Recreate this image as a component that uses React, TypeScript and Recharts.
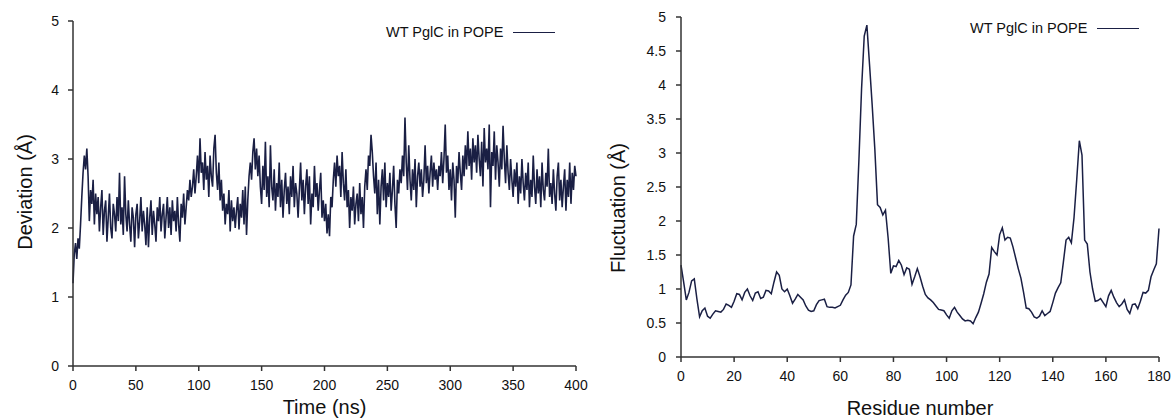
import { LineChart, Line, XAxis, YAxis, Legend } from 'recharts';

const SERIES_NAME = 'WT PglC in POPE';

// backbone deviation, one frame per ns, 0..400 ns
const rmsd = [
  1.2, 1.62, 1.78, 1.55, 1.85, 1.7, 2.05, 2.45, 2.8, 3.05,
  2.85, 3.15, 2.75, 2.1, 2.55, 2.35, 2.7, 2.05, 2.5, 2.2,
  2.45, 1.95, 2.3, 2.55, 1.9, 2.25, 2.4, 1.8, 2.15, 2.5,
  2.0, 1.85, 2.35, 2.2, 1.95, 2.45, 2.1, 2.8, 2.05, 2.3,
  1.9, 2.75, 2.2, 1.95, 2.4, 2.05, 1.8, 2.3, 2.15, 1.72,
  2.2, 2.35, 1.85, 2.1, 2.45, 1.95, 2.25, 2.05, 1.75, 2.3,
  1.72, 2.15, 2.4, 1.9, 2.25, 2.05, 1.8, 2.3, 2.1, 2.45,
  1.95, 2.2, 2.35, 1.85, 2.15, 2.45, 2.0, 2.3, 1.9, 2.4,
  2.1, 2.25, 1.95, 2.45, 2.05, 1.8, 2.35, 2.15, 2.5, 2.05,
  2.3, 2.55, 2.4, 2.7, 2.45, 2.6, 2.85, 2.5, 2.75, 3.05,
  2.65, 3.3, 2.8, 2.95, 2.55, 3.1, 2.7, 2.9, 2.45, 3.05,
  2.75, 2.6, 3.15, 3.35, 2.8, 2.55, 2.95, 2.4, 2.7, 2.25,
  2.5, 2.05, 2.35, 2.2, 2.55, 1.95, 2.4, 2.1, 2.3, 2.0,
  2.25, 2.45, 1.98, 2.35, 2.15, 2.55, 2.05, 2.6, 1.9, 2.4,
  2.75, 2.95, 2.7, 3.1, 3.3, 2.85, 3.15, 2.75, 3.05, 2.6,
  2.35, 2.9, 2.55, 3.25, 2.45, 2.75, 2.3, 3.2, 2.6, 2.4,
  2.85, 2.25, 2.65, 2.45, 2.95, 2.3, 2.7, 2.15, 2.55, 2.8,
  2.35, 2.6, 2.2, 2.75, 2.45, 2.9, 2.3, 2.65, 2.5, 2.15,
  2.55, 2.95, 2.4, 2.7, 2.2, 2.6, 2.85, 2.35, 2.75, 2.05,
  2.5, 2.3, 2.9, 2.45, 2.65, 2.25, 2.55, 2.8, 2.15, 2.4,
  2.1, 2.35, 1.92, 2.2, 1.88, 2.45, 2.3, 2.7, 2.95, 2.6,
  3.05, 2.75, 2.9, 2.45, 3.1, 2.65, 2.4, 2.85, 2.3, 2.55,
  2.0, 2.45, 2.25, 2.6, 2.05, 2.35, 2.5, 2.1, 2.65, 2.2,
  2.45, 2.0, 2.6, 2.85, 2.55, 3.05, 2.9, 3.35, 3.1, 2.75,
  2.5, 2.95, 2.2, 2.7, 2.05, 2.6, 2.85, 2.4, 2.95, 2.3,
  2.65, 2.45, 2.8, 2.25, 2.55, 2.9, 2.35, 2.0, 2.7, 2.5,
  2.85, 2.65, 3.05, 2.75, 3.6, 2.95, 2.55, 3.2, 2.7, 2.4,
  2.85, 2.55, 3.0, 2.3, 2.75, 2.95, 2.6, 2.85, 2.45, 2.7,
  3.2, 2.65, 2.9, 2.5, 2.8, 3.05, 2.6, 2.95, 2.7, 2.85,
  2.55, 2.9, 2.75, 3.1, 2.65, 3.0, 3.5, 2.8, 3.05, 2.55,
  2.85, 2.4, 2.95, 2.7, 2.15, 2.9, 2.65, 3.1, 2.8, 2.55,
  3.05, 2.75, 3.2, 2.85, 3.4, 2.9, 3.15, 2.7, 3.3, 2.95,
  3.2, 2.8, 3.35, 3.0, 2.75, 3.25, 2.6, 3.45, 2.95, 3.15,
  2.85, 3.5, 2.3, 3.1, 2.9, 3.4, 2.7, 3.2, 2.95, 2.6,
  3.15, 2.85, 3.48, 3.0, 2.65, 3.2, 2.8, 2.55, 3.0, 2.7,
  2.45, 2.85, 2.6, 2.95, 2.35, 2.75, 2.5, 3.0, 2.65, 2.4,
  2.8, 2.55, 2.95, 2.3, 2.7, 2.45, 3.05, 2.6, 2.35, 2.85,
  2.5, 2.75, 2.3, 2.95, 2.55, 2.4, 2.8, 2.6, 3.15, 2.45,
  2.65, 2.35, 2.85, 2.5, 2.25, 2.75, 2.95, 2.4, 2.7, 2.3,
  2.6, 2.85, 2.25, 2.7, 2.45, 2.95, 2.35, 2.8, 2.55, 2.9,
  2.75,
];
const timeTicks = [0, 50, 100, 150, 200, 250, 300, 350, 400];
const deviationTicks = [0, 1, 2, 3, 4, 5];

// per-residue fluctuation, residues 0..180
const rmsf = [
  1.35, 1.1, 0.84, 0.95, 1.12, 1.15, 0.85, 0.59, 0.68, 0.72,
  0.6, 0.57, 0.63, 0.68, 0.67, 0.66, 0.7, 0.78, 0.76, 0.73,
  0.82, 0.93, 0.92, 0.84, 0.95, 1.0, 0.9, 0.83, 0.94, 0.96,
  0.86, 0.88, 0.98, 0.97, 0.93, 1.1, 1.25, 1.2, 1.0, 0.96,
  1.0, 0.9, 0.79, 0.85, 0.92, 0.88, 0.84, 0.75, 0.69, 0.67,
  0.68, 0.77, 0.83, 0.84, 0.85, 0.74, 0.73, 0.73, 0.72, 0.74,
  0.76, 0.84, 0.91, 0.95, 1.06, 1.78, 1.95, 2.9, 3.95, 4.72,
  4.88, 4.3, 3.7, 3.05, 2.24, 2.2, 2.09, 2.16, 1.75, 1.23,
  1.34, 1.33, 1.42, 1.35, 1.21, 1.31, 1.29, 1.07, 1.18, 1.3,
  1.18, 1.04, 0.92, 0.87, 0.84, 0.8, 0.75, 0.7, 0.69, 0.68,
  0.62, 0.57, 0.68, 0.73, 0.66, 0.61, 0.56, 0.53, 0.54, 0.53,
  0.49, 0.58, 0.66, 0.79, 0.93, 1.1, 1.22, 1.61, 1.55, 1.5,
  1.8, 1.9, 1.72, 1.76, 1.75, 1.62, 1.46, 1.3, 1.16, 0.95,
  0.72, 0.71, 0.66, 0.59, 0.57, 0.6, 0.68, 0.61, 0.64, 0.67,
  0.8, 0.94, 1.02, 1.09, 1.4, 1.72, 1.76, 1.68, 2.05, 2.6,
  3.18, 2.97, 1.72, 1.66, 1.25, 1.0, 0.82, 0.83, 0.86, 0.8,
  0.74, 0.9, 0.98, 0.88, 0.8, 0.74, 0.78, 0.84, 0.7, 0.64,
  0.77, 0.78, 0.71, 0.82, 0.95, 0.94, 0.98, 1.18, 1.28, 1.37,
  1.89,
];
const residueTicks = [0, 20, 40, 60, 80, 100, 120, 140, 160, 180];
const fluctuationTicks = [0, 0.5, 1, 1.5, 2, 2.5, 3, 3.5, 4, 4.5, 5];

const rmsdData = rmsd.map((value, i) => ({ time: i, value }));
const rmsfData = rmsf.map((value, i) => ({ residue: i, value }));

const FONT = '"Liberation Sans", Arial, Helvetica, sans-serif';
const INK = '#111';
const TRACE = '#1a1f44';
const axisLine = { stroke: '#333', strokeWidth: 1.5 };
const tickStyle = { fill: INK, fontSize: 14, fontFamily: FONT };
const titleStyle = { fill: INK, fontSize: 20, fontFamily: FONT };

function verticalTitle(text: string, x: number, y: number) {
  return () => (
    <text
      x={x}
      y={y}
      transform={`rotate(-90, ${x}, ${y})`}
      textAnchor="middle"
      dominantBaseline="central"
      fill={INK}
      fontSize={20}
      fontFamily={FONT}
    >
      {text}
    </text>
  );
}

function SeriesKey() {
  return (
    <div style={{ display: 'flex', alignItems: 'center', fontFamily: FONT, fontSize: 14.5, color: INK, lineHeight: '16px' }}>
      <span>{SERIES_NAME}</span>
      <span style={{ display: 'inline-block', width: 42, borderTop: `1.5px solid ${TRACE}`, marginLeft: 10 }} />
    </div>
  );
}

function DeviationChart() {
  return (
    <LineChart width={600} height={419} data={rmsdData} margin={{ top: 21, right: 24, bottom: 23, left: 13 }}>
      <XAxis
        dataKey="time"
        type="number"
        domain={[0, 400]}
        ticks={timeTicks}
        tickSize={5}
        tickMargin={9}
        axisLine={axisLine}
        tickLine={axisLine}
        tick={tickStyle}
        label={{ value: 'Time (ns)', position: 'bottom', offset: 4, style: titleStyle }}
      />
      <XAxis xAxisId="frame" orientation="top" dataKey="time" type="number" domain={[0, 400]} height={0} tick={false} tickLine={false} axisLine={axisLine} />
      <YAxis
        type="number"
        domain={[0, 5]}
        ticks={deviationTicks}
        width={60}
        tickSize={5}
        tickMargin={9}
        axisLine={axisLine}
        tickLine={axisLine}
        tick={tickStyle}
        label={{ content: verticalTitle('Deviation (Å)', 25, 192) }}
      />
      <YAxis yAxisId="frame" orientation="right" type="number" domain={[0, 5]} width={0} tick={false} tickLine={false} axisLine={axisLine} />
      <Line dataKey="value" stroke={TRACE} strokeWidth={1.6} dot={false} isAnimationActive={false} />
      <Legend verticalAlign="middle" align="center" content={() => <SeriesKey />} wrapperStyle={{ top: 24, left: 386, width: 'auto', height: 'auto' }} />
    </LineChart>
  );
}

function FluctuationChart() {
  return (
    <LineChart width={583} height={419} data={rmsfData} margin={{ top: 17, right: 14, bottom: 32, left: 31 }}>
      <XAxis
        dataKey="residue"
        type="number"
        domain={[0, 180]}
        ticks={residueTicks}
        tickSize={5}
        tickMargin={9}
        axisLine={axisLine}
        tickLine={axisLine}
        tick={tickStyle}
        label={{ value: 'Residue number', position: 'bottom', offset: 14, style: titleStyle }}
      />
      <XAxis xAxisId="frame" orientation="top" dataKey="residue" type="number" domain={[0, 180]} height={0} tick={false} tickLine={false} axisLine={axisLine} />
      <YAxis
        type="number"
        domain={[0, 5]}
        ticks={fluctuationTicks}
        width={60}
        tickSize={5}
        tickMargin={10}
        axisLine={axisLine}
        tickLine={axisLine}
        tick={tickStyle}
        label={{ content: verticalTitle('Fluctuation (Å)', 28, 208) }}
      />
      <YAxis yAxisId="frame" orientation="right" type="number" domain={[0, 5]} width={0} tick={false} tickLine={false} axisLine={axisLine} />
      <Line dataKey="value" stroke={TRACE} strokeWidth={1.5} dot={false} isAnimationActive={false} />
      <Legend verticalAlign="middle" align="center" content={() => <SeriesKey />} wrapperStyle={{ top: 20, left: 380, width: 'auto', height: 'auto' }} />
    </LineChart>
  );
}

export default function App() {
  return (
    <div style={{ position: 'absolute', left: 0, top: 0, width: 1173, height: 419, background: '#fff' }}>
      <div style={{ position: 'absolute', left: 0, top: 0 }}>
        <DeviationChart />
      </div>
      <div style={{ position: 'absolute', left: 590, top: 0 }}>
        <FluctuationChart />
      </div>
    </div>
  );
}
